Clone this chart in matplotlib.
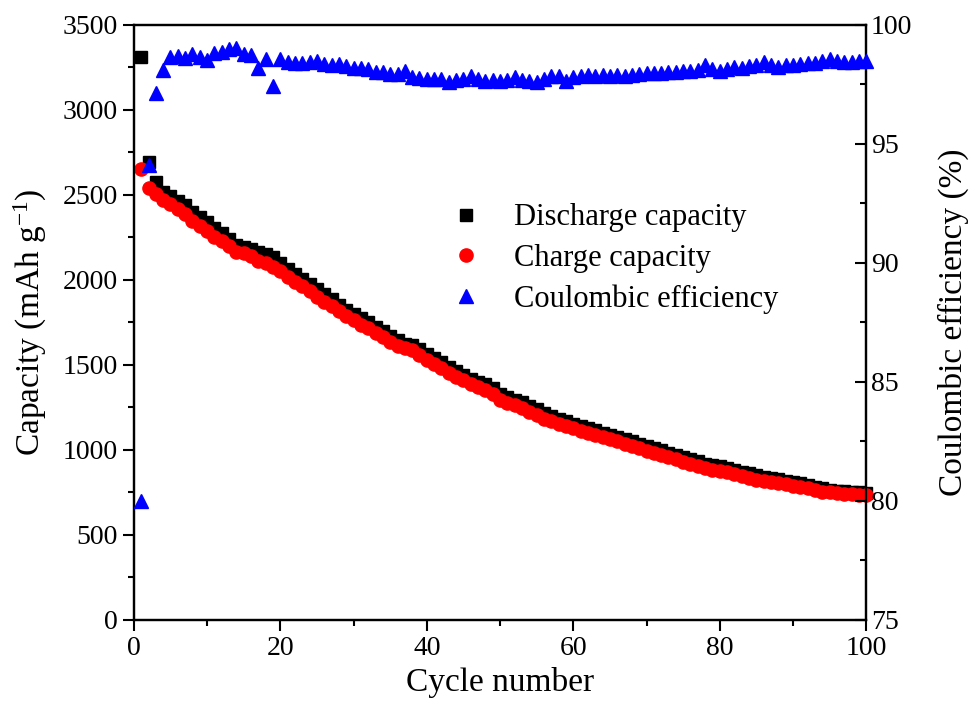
import matplotlib
matplotlib.use("Agg")
import matplotlib.pyplot as plt
from matplotlib.ticker import MultipleLocator
from matplotlib.lines import Line2D

plt.rcParams['font.family'] = ['Liberation Serif', 'DejaVu Serif']
plt.rcParams['mathtext.fontset'] = 'custom'
plt.rcParams['mathtext.rm'] = 'Liberation Serif'
plt.rcParams['mathtext.it'] = 'Liberation Serif:italic'

cycles = list(range(1, 101))

discharge = [
    3310, 2695, 2575, 2520, 2495, 2465, 2440, 2400, 2370, 2340,
    2305, 2275, 2240, 2205, 2195, 2180, 2165, 2150, 2135, 2100,
    2065, 2035, 2005, 1975, 1945, 1915, 1885, 1855, 1825, 1800,
    1775, 1750, 1725, 1700, 1672, 1645, 1625, 1615, 1595, 1565,
    1540, 1515, 1490, 1465, 1440, 1415, 1400, 1385, 1365, 1330,
    1310, 1295, 1280, 1260, 1240, 1220, 1200, 1185, 1170, 1155,
    1140, 1128, 1115, 1102, 1090, 1078, 1065, 1052, 1038, 1022,
    1010, 998, 985, 972, 960, 948, 935, 920, 910, 905,
    895, 885, 873, 862, 850, 843, 835, 828, 820, 812,
    803, 795, 785, 775, 765, 760, 757, 755, 752, 748,
]

charge = [
    2650, 2540, 2505, 2470, 2445, 2420, 2385, 2345, 2318, 2290,
    2255, 2230, 2198, 2165, 2160, 2138, 2110, 2098, 2075, 2050,
    2020, 1990, 1962, 1932, 1902, 1873, 1845, 1815, 1790, 1765,
    1737, 1716, 1690, 1663, 1637, 1612, 1598, 1590, 1560, 1530,
    1505, 1480, 1455, 1432, 1412, 1385, 1368, 1352, 1330, 1295,
    1278, 1262, 1245, 1225, 1206, 1185, 1168, 1155, 1140, 1127,
    1112, 1100, 1088, 1075, 1062, 1050, 1038, 1025, 1010, 993,
    982, 970, 958, 945, 932, 920, 905, 892, 885, 878,
    868, 858, 846, 835, 825, 820, 812, 805, 798, 790,
    782, 775, 765, 755, 750, 745, 742, 740, 736, 733,
]

efficiency = [
    80.0, 94.1, 97.13, 98.11, 98.64, 98.70, 98.60, 98.78, 98.67, 98.53,
    98.81, 98.88, 98.99, 99.01, 98.78, 98.74, 98.18, 98.56, 97.44, 98.56,
    98.42, 98.39, 98.39, 98.42, 98.47, 98.37, 98.32, 98.35, 98.28, 98.17,
    98.18, 98.14, 98.04, 98.02, 97.93, 97.95, 98.07, 97.79, 97.76, 97.72,
    97.73, 97.74, 97.61, 97.70, 97.72, 97.86, 97.74, 97.65, 97.67, 97.65,
    97.68, 97.80, 97.70, 97.65, 97.58, 97.72, 97.87, 97.84, 97.65, 97.80,
    97.85, 97.88, 97.86, 97.89, 97.86, 97.88, 97.86, 97.90, 97.93, 97.96,
    97.97, 97.98, 98.00, 98.02, 98.08, 98.06, 98.12, 98.31, 98.16, 98.08,
    98.15, 98.22, 98.20, 98.26, 98.31, 98.45, 98.30, 98.25, 98.30, 98.31,
    98.35, 98.38, 98.40, 98.49, 98.56, 98.49, 98.45, 98.45, 98.49, 98.50,
]

fig = plt.figure(figsize=(9.70, 7.11), dpi=100)
ax = fig.add_axes([0.138, 0.128, 0.755, 0.837])
ax2 = ax.twinx()

ax.plot(cycles, discharge, linestyle='none', marker='s', markersize=8.5,
        color='black', clip_on=False, zorder=3)
ax.plot(cycles, charge, linestyle='none', marker='o', markersize=9.5,
        color='#ff0000', clip_on=False, zorder=4)
ax2.plot(cycles, efficiency, linestyle='none', marker='^', markersize=10,
         color='#0000ff', clip_on=False, zorder=5)

ax.set_xlim(0, 100)
ax.set_ylim(0, 3500)
ax2.set_ylim(75, 100)

ax.xaxis.set_major_locator(MultipleLocator(20))
ax.xaxis.set_minor_locator(MultipleLocator(10))
ax.yaxis.set_major_locator(MultipleLocator(500))
ax.yaxis.set_minor_locator(MultipleLocator(250))
ax2.yaxis.set_major_locator(MultipleLocator(5))
ax2.yaxis.set_minor_locator(MultipleLocator(2.5))

for a in (ax, ax2):
    for s in a.spines.values():
        s.set_linewidth(1.6)

ax.tick_params(axis='both', which='major', direction='out', length=8,
               width=1.5, labelsize=20, top=False, right=False)
ax.tick_params(axis='both', which='minor', direction='out', length=4.5,
               width=1.5, top=False, right=False)
ax2.tick_params(axis='y', which='major', direction='in', length=8,
                width=1.5, labelsize=20)
ax2.tick_params(axis='y', which='minor', direction='in', length=4.5,
                width=1.5)

ax.set_xlabel('Cycle number', fontsize=24, labelpad=4)
ax.set_ylabel(r'Capacity (mAh g$^{\mathregular{-1}}$)', fontsize=24, labelpad=10)
ax2.set_ylabel('Coulombic efficiency (%)', fontsize=24, labelpad=18)

handles = [
    Line2D([], [], linestyle='none', marker='s', markersize=8.5, color='black'),
    Line2D([], [], linestyle='none', marker='o', markersize=9.5, color='#ff0000'),
    Line2D([], [], linestyle='none', marker='^', markersize=10, color='#0000ff'),
]
labels = ['Discharge capacity', 'Charge capacity', 'Coulombic efficiency']
ax2.legend(handles, labels, loc='upper left', bbox_to_anchor=(0.432, 0.70),
           frameon=False, fontsize=22, handlelength=1.0, handletextpad=1.1,
           labelspacing=0.38, borderpad=0, borderaxespad=0)

fig.savefig('out.png', dpi=100)
